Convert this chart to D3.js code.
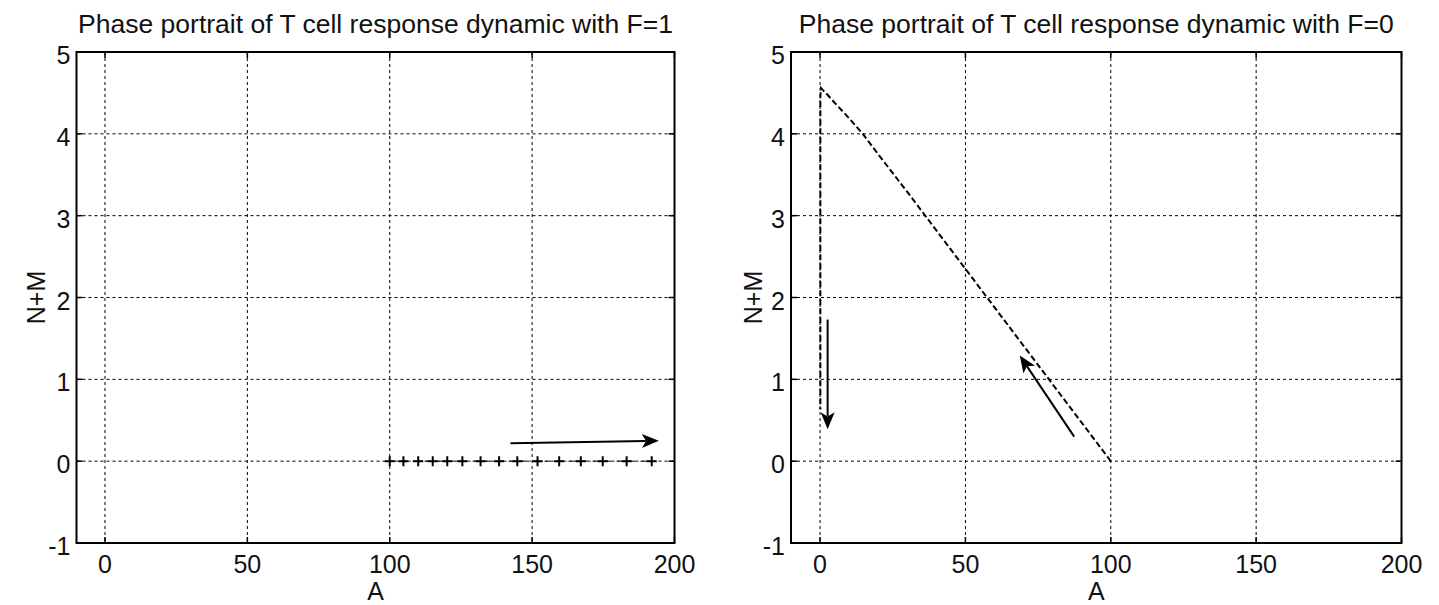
<!DOCTYPE html>
<html>
<head>
<meta charset="utf-8">
<script src="https://cdn.jsdelivr.net/npm/d3@7"></script>
<style>
  body { margin: 0; background: #fff; }
  text { font-family: "Liberation Sans", Arial, sans-serif; fill: #111; }
</style>
</head>
<body>
<div id="chart"></div>
<script>
// axis ticks
var xTicks = [0, 50, 100, 150, 200];
var yTicks = [-1, 0, 1, 2, 3, 4, 5];

// F=1 trajectory (A, N+M), plotted as '+'
var f1A  = [100, 104.8, 110, 115.1, 120.2, 125.5, 131.9, 138.4, 144.8, 151.9, 159.5, 167.1, 174.8, 183.2, 192];
var f1NM = [0, 0, 0, 0, 0, 0, 0, 0, 0, 0, 0, 0, 0, 0, 0];

// F=0 trajectory (A, N+M), dashed line
var f0A  = [100, 90, 80, 70, 60, 50, 40, 30, 20, 14.7, 10, 5, 2, 0.8, 0.3, 0.1, 0.1];
var f0NM = [0, 0.47, 0.94, 1.41, 1.88, 2.35, 2.82, 3.29, 3.75, 4.0, 4.19, 4.38, 4.5, 4.54, 4.56, 4.45, 0.63];

// direction arrows, [A, N+M] from -> to
var f1Arrows = [{from: [142.4, 0.22], to: [194.5, 0.25]}];
var f0Arrows = [{from: [2.6, 1.73], to: [2.6, 0.39]}, {from: [87.4, 0.30], to: [68.7, 1.29]}];

var width = 1439, height = 605;
var svg = d3.select('#chart').append('svg')
    .attr('width', width)
    .attr('height', height);

function drawPanel(opts) {
    var x = d3.scaleLinear().domain([-10, 200]).range([opts.left, opts.right]);
    var y = d3.scaleLinear().domain([-1, 5]).range([opts.bottom, opts.top]);
    var g = svg.append('g');
    var tickLen = 6;
    var line = d3.line().x(function(d) { return x(d[0]); }).y(function(d) { return y(d[1]); });

    // dotted grid
    g.selectAll('.gx').data(xTicks).enter().append('line')
        .attr('x1', function(d) { return x(d); }).attr('x2', function(d) { return x(d); })
        .attr('y1', opts.top).attr('y2', opts.bottom)
        .attr('stroke', '#000').attr('stroke-width', 1).attr('stroke-dasharray', '3,3');
    g.selectAll('.gy').data(yTicks).enter().append('line')
        .attr('y1', function(d) { return y(d); }).attr('y2', function(d) { return y(d); })
        .attr('x1', opts.left).attr('x2', opts.right)
        .attr('stroke', '#000').attr('stroke-width', 1).attr('stroke-dasharray', '3,3');

    // data
    var pts = d3.zip(opts.xs, opts.ys);
    if (opts.markers) {
        g.append('path')
            .attr('d', line(pts))
            .attr('fill', 'none').attr('stroke', '#000').attr('stroke-width', 1)
            .attr('stroke-dasharray', '5,3,1,3');
        g.selectAll('.plus').data(pts).enter().append('path')
            .attr('d', function(d) {
                var cx = x(d[0]), cy = y(d[1]), s = 5;
                return 'M' + (cx - s) + ',' + cy + 'H' + (cx + s) + 'M' + cx + ',' + (cy - s) + 'V' + (cy + s);
            })
            .attr('stroke', '#000').attr('stroke-width', 2);
    } else {
        g.append('path')
            .attr('d', line(pts))
            .attr('fill', 'none').attr('stroke', '#000').attr('stroke-width', 2)
            .attr('stroke-dasharray', '6,3');
    }

    // arrows
    opts.arrows.forEach(function(a) {
        var x1 = x(a.from[0]), y1 = y(a.from[1]), x2 = x(a.to[0]), y2 = y(a.to[1]);
        var ang = Math.atan2(y2 - y1, x2 - x1);
        var len = 17, hw = 7;
        var bx = x2 - len * Math.cos(ang), by = y2 - len * Math.sin(ang);
        g.append('line')
            .attr('x1', x1).attr('y1', y1).attr('x2', bx + 4 * Math.cos(ang)).attr('y2', by + 4 * Math.sin(ang))
            .attr('stroke', '#000').attr('stroke-width', opts.arrowWidth);
        g.append('path')
            .attr('d', 'M' + x2 + ',' + y2 +
                'L' + (bx + hw * Math.sin(ang)) + ',' + (by - hw * Math.cos(ang)) +
                'L' + (x2 - 0.75 * len * Math.cos(ang)) + ',' + (y2 - 0.75 * len * Math.sin(ang)) +
                'L' + (bx - hw * Math.sin(ang)) + ',' + (by + hw * Math.cos(ang)) + 'Z')
            .attr('fill', '#000');
    });

    // inward ticks on all four sides
    xTicks.forEach(function(t) {
        g.append('line').attr('x1', x(t)).attr('x2', x(t)).attr('y1', opts.bottom).attr('y2', opts.bottom - tickLen)
            .attr('stroke', '#000').attr('stroke-width', 1.5);
        g.append('line').attr('x1', x(t)).attr('x2', x(t)).attr('y1', opts.top).attr('y2', opts.top + tickLen)
            .attr('stroke', '#000').attr('stroke-width', 1.5);
    });
    yTicks.forEach(function(t) {
        g.append('line').attr('y1', y(t)).attr('y2', y(t)).attr('x1', opts.left).attr('x2', opts.left + tickLen)
            .attr('stroke', '#000').attr('stroke-width', 1.5);
        g.append('line').attr('y1', y(t)).attr('y2', y(t)).attr('x1', opts.right).attr('x2', opts.right - tickLen)
            .attr('stroke', '#000').attr('stroke-width', 1.5);
    });

    // box
    g.append('rect')
        .attr('x', opts.left).attr('y', opts.top)
        .attr('width', opts.right - opts.left).attr('height', opts.bottom - opts.top)
        .attr('fill', 'none').attr('stroke', '#000').attr('stroke-width', 2);

    // tick labels
    g.selectAll('.xl').data(xTicks).enter().append('text')
        .attr('x', function(d) { return x(d); })
        .attr('y', opts.bottom + 30)
        .attr('text-anchor', 'middle')
        .style('font-size', '25px')
        .text(function(d) { return d; });
    g.selectAll('.yl').data(yTicks).enter().append('text')
        .attr('x', opts.left - 6)
        .attr('y', function(d) { return y(d) + 12; })
        .attr('text-anchor', 'end')
        .style('font-size', '25px')
        .text(function(d) { return d; });

    // titles
    var cx = (opts.left + opts.right) / 2;
    g.append('text')
        .attr('x', cx).attr('y', 33)
        .attr('text-anchor', 'middle')
        .style('font-size', '26.5px')
        .text(opts.title);
    g.append('text')
        .attr('x', cx).attr('y', 600)
        .attr('text-anchor', 'middle')
        .style('font-size', '25px')
        .text('A');
    g.append('text')
        .attr('text-anchor', 'middle')
        .attr('transform', 'translate(' + opts.yLabelX + ',' + ((opts.top + opts.bottom) / 2) + ')rotate(-90)')
        .style('font-size', '25px')
        .text('N+M');
}

drawPanel({
    left: 76.5, right: 674.5, top: 52, bottom: 543,
    xs: f1A, ys: f1NM, markers: true, arrows: f1Arrows, arrowWidth: 2,
    yLabelX: 45,
    title: 'Phase portrait of T cell response dynamic with F=1'
});
drawPanel({
    left: 791, right: 1401.5, top: 52, bottom: 543,
    xs: f0A, ys: f0NM, markers: false, arrows: f0Arrows, arrowWidth: 2,
    yLabelX: 762,
    title: 'Phase portrait of T cell response dynamic with F=0'
});
</script>
</body>
</html>
